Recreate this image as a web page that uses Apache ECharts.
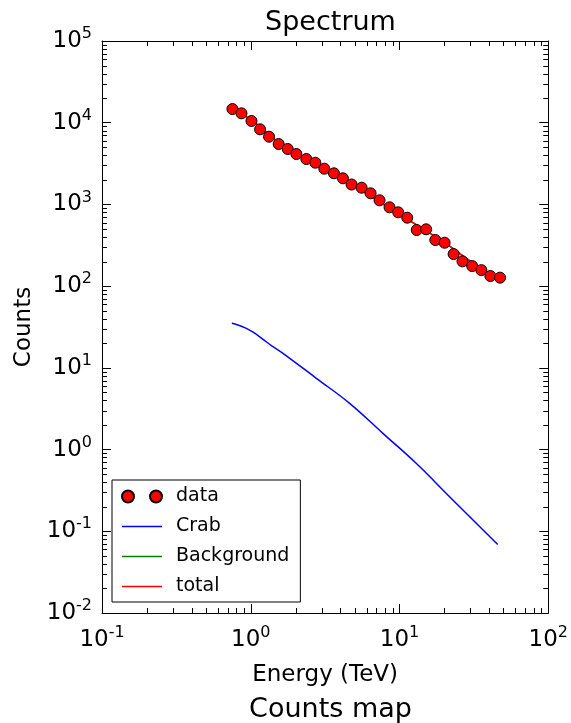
<!DOCTYPE html>
<html>
<head>
<meta charset="utf-8">
<script src="https://cdn.jsdelivr.net/npm/echarts@6/dist/echarts.min.js"></script>
<style>
html,body{margin:0;padding:0;background:#fff;}
#chart{width:571px;height:723px;}
</style>
</head>
<body>
<div id="chart"></div>
<script>
// ---- data ----
const dataEnergy = [0.753, 0.866, 1.011, 1.155, 1.327, 1.541, 1.772, 2.026, 2.364, 2.718,
                    3.123, 3.624, 4.164, 4.76, 5.56, 6.39, 7.34, 8.57, 9.80, 11.27,
                    13.06, 15.1, 17.4, 20.1, 23.1, 26.5, 30.8, 35.5, 40.8, 47.4];
const dataCounts = [14700, 13030, 10500, 8300, 6740, 5490, 4770, 4140, 3595, 3240,
                    2737, 2404, 2088, 1753, 1602, 1368, 1123, 922, 801, 688,
                    486, 496, 367, 340, 247, 201, 176, 157, 133, 127];

const modelEnergy = [0.753, 1.011, 1.541, 2.364, 3.624, 5.56, 8.57, 13.06, 20.1, 30.8, 47.4];
const totalCounts = [14500, 10800, 5700, 3600, 2300, 1480, 900, 560, 340, 195, 120];
const bkgCounts   = [14460, 10770, 5685, 3592, 2296, 1477, 899, 559, 340, 195, 120];

const crabEnergy = [0.746, 0.818, 0.911, 1.031, 1.185, 1.384, 1.647, 2.76, 4.62, 7.73, 12.94, 21.7, 45.7];
const crabCounts = [35.1, 33.5, 31.1, 27.5, 23.0, 18.6, 15.07, 7.45, 3.68, 1.58, 0.679, 0.265, 0.069];

const xMin = 0.1, xMax = 100, yMin = 0.01, yMax = 1e5;
const xMinorTicks = [];
[0.1, 1, 10].forEach(d => { [2,3,4,5,6,7,8,9].forEach(m => xMinorTicks.push(+(d*m).toPrecision(3))); });
const yMinorTicks = [];
[0.01, 0.1, 1, 10, 100, 1000, 10000].forEach(d => { [2,3,4,5,6,7,8,9].forEach(m => yMinorTicks.push(+(d*m).toPrecision(3))); });

const FONT = 'DejaVu Sans';
const pair = (xs, ys) => xs.map((x, i) => [x, ys[i]]);

function powLabel(v) {
  const e = Math.round(Math.log10(v));
  return '{b|10}{s|' + e + '}';
}
const richLabel = {
  b: { fontSize: 23, lineHeight: 30, fontFamily: FONT, color: '#000' },
  s: { fontSize: 16, lineHeight: 16, verticalAlign: 'top', fontFamily: FONT, color: '#000' }
};

const chart = echarts.init(document.getElementById('chart'));
const MAJ = 9, MIN = 5;
const LINE_ICON = 'path://M0,0H40V1.5H0Z';

const option = {
  animation: false,
  backgroundColor: '#fff',
  title: [
    { text: 'Spectrum', left: 325.5, top: 4, textAlign: 'center',
      textStyle: { fontFamily: FONT, fontSize: 27, fontWeight: 'normal', color: '#000' } },
    { text: 'Counts map', left: 325.5, top: 691, textAlign: 'center',
      textStyle: { fontFamily: FONT, fontSize: 27, fontWeight: 'normal', color: '#000' } }
  ],
  grid: { left: 102, top: 41, right: 22, bottom: 110, containLabel: false },
  legend: {
    orient: 'vertical', left: 112, top: 480,
    padding: [7, 11, 6, 9],
    itemWidth: 40, itemHeight: 12, itemGap: 11,
    symbolKeepAspect: true,
    borderColor: '#000', borderWidth: 1, backgroundColor: '#fff',
    textStyle: { fontFamily: FONT, fontSize: 19, color: '#000', padding: [0, 0, 0, 9] },
    data: [
      { name: 'data', icon: 'path://M0,6a6,6 0 1,0 12,0a6,6 0 1,0 -12,0Z M28,6a6,6 0 1,0 12,0a6,6 0 1,0 -12,0Z' },
      { name: 'Crab', icon: LINE_ICON, itemStyle: { color: '#0000ff', borderWidth: 0 } },
      { name: 'Background', icon: LINE_ICON, itemStyle: { color: '#008000', borderWidth: 0 } },
      { name: 'total', icon: LINE_ICON, itemStyle: { color: '#ff0000', borderWidth: 0 } }
    ],
    selectedMode: false
  },
  xAxis: [
    { type: 'log', logBase: 10, min: xMin, max: xMax, interval: 1,
      name: 'Energy (TeV)', nameLocation: 'middle', nameGap: 51,
      nameTextStyle: { fontFamily: FONT, fontSize: 23, color: '#000' },
      axisLine: { show: true, onZero: false, lineStyle: { color: '#000', width: 1 } },
      axisTick: { show: true, inside: true, length: MAJ, lineStyle: { color: '#000', width: 1 } },
      minorTick: { show: false },
      axisLabel: { margin: 12, formatter: powLabel, rich: richLabel },
      splitLine: { show: false } },
    { type: 'log', logBase: 10, min: xMin, max: xMax, interval: 1, position: 'top',
      axisLine: { show: true, onZero: false, lineStyle: { color: '#000', width: 1 } },
      axisTick: { show: true, inside: true, length: MAJ, lineStyle: { color: '#000', width: 1 } },
      axisLabel: { show: false }, splitLine: { show: false } }
  ],
  yAxis: [
    { type: 'log', logBase: 10, min: yMin, max: yMax, interval: 1,
      name: 'Counts', nameLocation: 'middle', nameGap: 62, nameRotate: 90,
      nameTextStyle: { fontFamily: FONT, fontSize: 23, color: '#000' },
      axisLine: { show: true, onZero: false, lineStyle: { color: '#000', width: 1 } },
      axisTick: { show: true, inside: true, length: MAJ, lineStyle: { color: '#000', width: 1 } },
      axisLabel: { margin: 10, formatter: powLabel, rich: richLabel },
      splitLine: { show: false } },
    { type: 'log', logBase: 10, min: yMin, max: yMax, interval: 1, position: 'right',
      axisLine: { show: true, onZero: false, lineStyle: { color: '#000', width: 1 } },
      axisTick: { show: true, inside: true, length: MAJ, lineStyle: { color: '#000', width: 1 } },
      axisLabel: { show: false }, splitLine: { show: false } }
  ],
  series: [
    { name: 'Background', type: 'line', data: pair(modelEnergy, bkgCounts), showSymbol: false, symbol: 'none',
      smooth: 0.5, lineStyle: { color: '#008000', width: 1.5 }, itemStyle: { color: '#008000' }, z: 2 },
    { name: 'total', type: 'line', data: pair(modelEnergy, totalCounts), showSymbol: false, symbol: 'none',
      smooth: 0.5, lineStyle: { color: '#ff0000', width: 1.5 }, itemStyle: { color: '#ff0000' }, z: 3 },
    { name: 'Crab', type: 'line', data: pair(crabEnergy, crabCounts), showSymbol: false, symbol: 'none',
      smooth: 0.4, lineStyle: { color: '#0000ff', width: 1.5 }, itemStyle: { color: '#0000ff' }, z: 3 },
    { name: 'data', type: 'scatter', data: pair(dataEnergy, dataCounts), symbol: 'circle', symbolSize: 11,
      itemStyle: { color: '#ff0000', borderColor: '#000', borderWidth: 1, opacity: 1 }, z: 4 },
    { name: 'xminor', type: 'custom', silent: true, clip: false, z: 5,
      data: xMinorTicks.map(v => [v, yMin]),
      renderItem: function (params, api) {
        const v = api.value(0);
        const b = api.coord([v, yMin]);
        const t = api.coord([v, yMax]);
        const x = Math.round(b[0]) + 0.5;
        return { type: 'group', children: [
          { type: 'line', shape: { x1: x, y1: b[1], x2: x, y2: b[1] - MIN }, style: { stroke: '#000', lineWidth: 1 } },
          { type: 'line', shape: { x1: x, y1: t[1], x2: x, y2: t[1] + MIN }, style: { stroke: '#000', lineWidth: 1 } }
        ] };
      } },
    { name: 'yminor', type: 'custom', silent: true, clip: false, z: 5,
      data: yMinorTicks.map(v => [xMin, v]),
      renderItem: function (params, api) {
        const v = api.value(1);
        const l = api.coord([xMin, v]);
        const r = api.coord([xMax, v]);
        const y = Math.round(l[1]) + 0.5;
        return { type: 'group', children: [
          { type: 'line', shape: { x1: l[0], y1: y, x2: l[0] + MIN, y2: y }, style: { stroke: '#000', lineWidth: 1 } },
          { type: 'line', shape: { x1: r[0], y1: y, x2: r[0] - MIN, y2: y }, style: { stroke: '#000', lineWidth: 1 } }
        ] };
      } }
  ]
};
chart.setOption(option);
</script>
</body>
</html>
